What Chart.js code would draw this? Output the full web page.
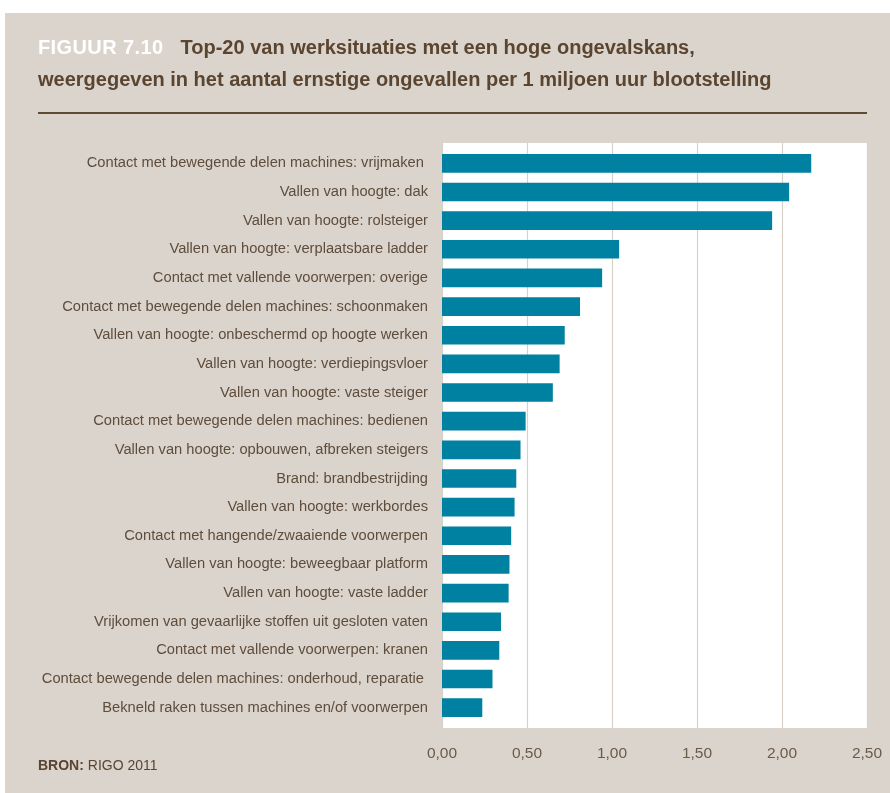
<!DOCTYPE html>
<html>
<head>
<meta charset="utf-8">
<script src="https://cdn.jsdelivr.net/npm/chart.js@4"></script>
<style>
  body { margin: 0; background: #fff; width: 890px; height: 793px; overflow: hidden; font-family: "Liberation Sans", Arial, sans-serif; }
  #panel { position: absolute; left: 5px; top: 13px; width: 885px; height: 780px; background: #dbd4cc; }
  #chartBox { position: absolute; left: 0; top: 0; width: 890px; height: 793px; }
  .title { position: absolute; left: 38px; font-weight: bold; font-size: 20px; line-height: 23px; color: #5a4530; white-space: nowrap; }
  .title .fig { color: #fff; margin-right: 17px; letter-spacing: 0.4px; }
  #t1 { top: 36px; }
  #t2 { top: 68px; }
  #rule { position: absolute; left: 38px; top: 112px; width: 829px; height: 2px; background: #5f4a33; }
  #source { position: absolute; left: 38px; top: 757px; font-size: 14px; color: #5a4530; }
</style>
</head>
<body>
<div id="panel"></div>
<div id="chartBox"><canvas id="chart" width="890" height="793"></canvas></div>
<div class="title" id="t1"><span class="fig">FIGUUR 7.10</span>Top-20 van werksituaties met een hoge ongevalskans,</div>
<div class="title" id="t2">weergegeven in het aantal ernstige ongevallen per 1 miljoen uur blootstelling</div>
<div id="rule"></div>
<div id="source"><b>BRON:</b> RIGO 2011</div>
<script>
const situaties = [
  "Contact met bewegende delen machines: vrijmaken ",
  "Vallen van hoogte: dak",
  "Vallen van hoogte: rolsteiger",
  "Vallen van hoogte: verplaatsbare ladder",
  "Contact met vallende voorwerpen: overige",
  "Contact met bewegende delen machines: schoonmaken",
  "Vallen van hoogte: onbeschermd op hoogte werken",
  "Vallen van hoogte: verdiepingsvloer",
  "Vallen van hoogte: vaste steiger",
  "Contact met bewegende delen machines: bedienen",
  "Vallen van hoogte: opbouwen, afbreken steigers",
  "Brand: brandbestrijding",
  "Vallen van hoogte: werkbordes",
  "Contact met hangende/zwaaiende voorwerpen",
  "Vallen van hoogte: beweegbaar platform",
  "Vallen van hoogte: vaste ladder",
  "Vrijkomen van gevaarlijke stoffen uit gesloten vaten",
  "Contact met vallende voorwerpen: kranen",
  "Contact bewegende delen machines: onderhoud, reparatie ",
  "Bekneld raken tussen machines en/of voorwerpen"
];
const ongevallen = [2.17, 2.04, 1.94, 1.04, 0.94, 0.81, 0.72, 0.69, 0.65, 0.49,
  0.46, 0.435, 0.425, 0.405, 0.395, 0.39, 0.345, 0.335, 0.295, 0.235];
const asMin = 0;
const asMax = 2.5;
const asStap = 0.5;

const brown = "#5e4d3c";
const gridColor = "#d9d1c8";

// white plot panel + vertical grid, a bit taller than the chart area
const plotPanel = {
  id: "plotPanel",
  beforeDatasetsDraw(chart) {
    const { ctx, chartArea: a, scales } = chart;
    const ext = 6;
    ctx.save();
    ctx.fillStyle = "#fff";
    ctx.fillRect(a.left, a.top - ext, a.right - a.left, a.bottom - a.top + 2 * ext);
    ctx.strokeStyle = gridColor;
    ctx.lineWidth = 1.2;
    scales.x.ticks.forEach(t => {
      const x = Math.round(scales.x.getPixelForValue(t.value)) + 0.5;
      ctx.beginPath();
      ctx.moveTo(x, a.top - ext);
      ctx.lineTo(x, a.bottom + ext);
      ctx.stroke();
    });
    ctx.restore();
  }
};

new Chart(document.getElementById("chart"), {
  type: "bar",
  data: {
    labels: situaties,
    datasets: [{
      data: ongevallen,
      backgroundColor: "#0081a1",
      barThickness: 18
    }]
  },
  options: {
    indexAxis: "y",
    responsive: false,
    animation: false,
    layout: { padding: { top: 149, right: 23, bottom: 21, left: 0 } },
    plugins: { legend: { display: false }, tooltip: { enabled: false } },
    scales: {
      x: {
        min: asMin,
        max: asMax,
        border: { display: false },
        grid: { display: false, drawTicks: false },
        afterFit: s => { s.height = 50; s.paddingLeft = 0; s.paddingRight = 0; },
        ticks: {
          stepSize: asStap,
          padding: 22,
          color: "#6b5a48",
          font: { family: "Liberation Sans", size: 15.5 },
          callback: v => v.toFixed(2).replace(".", ",")
        }
      },
      y: {
        border: { display: false },
        grid: { display: false, drawTicks: false },
        afterFit: s => { s.width = 442; },
        ticks: {
          padding: 14,
          color: brown,
          font: { family: "Liberation Sans", size: 14.7 }
        }
      }
    }
  },
  plugins: [plotPanel]
});
</script>
</body>
</html>
